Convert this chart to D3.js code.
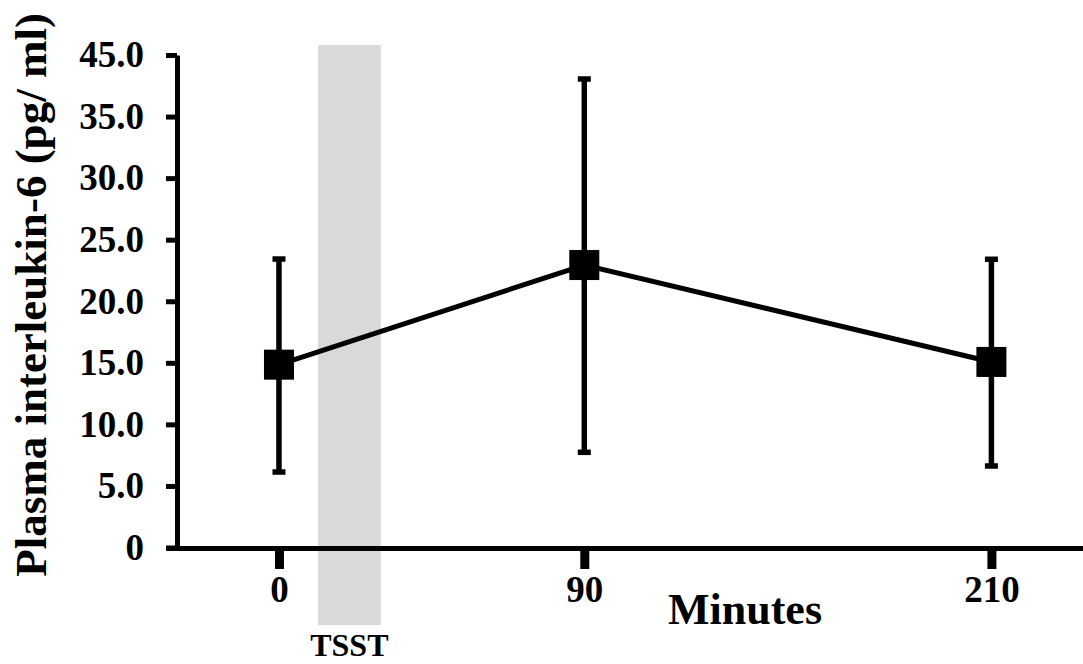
<!DOCTYPE html>
<html>
<head>
<meta charset="utf-8">
<script src="https://cdn.jsdelivr.net/npm/d3@7"></script>
<style>
  html, body { margin: 0; padding: 0; background: #fff; }
  svg text { font-family: "Liberation Serif", "Times New Roman", serif; font-weight: bold; fill: #000; }
</style>
</head>
<body>
<svg id="chart" width="1083" height="664"></svg>
<script>
// ---- data ----
const minutes = [0, 90, 210];
const means = [14.85, 22.94, 15.07];
const upper = [23.43, 38.05, 23.41];
const lower = [6.13, 7.73, 6.62];
const yTickValues = [0, 5, 10, 15, 20, 25, 30, 35, 40];
const yTickLabels = ["0", "5.0", "10.0", "15.0", "20.0", "25.0", "30.0", "35.0", "45.0"];
const xTickValues = [0, 90, 210];
const tsstWindow = [11.5, 30];
const yTitle = "Plasma interleukin-6 (pg/ ml)";
const xTitle = "Minutes";
const bandLabel = "TSST";

// ---- scales ----
const svg = d3.select("#chart");
const x = d3.scaleLinear().domain([-33.3, 237]).range([166, 1083]);
const y = d3.scaleLinear().domain([0, 40]).range([547.5, 55]);

// TSST band
svg.append("rect")
  .attr("x", x(tsstWindow[0]))
  .attr("width", x(tsstWindow[1]) - x(tsstWindow[0]))
  .attr("y", 45)
  .attr("height", 625 - 45)
  .attr("fill", "#d9d9d9");

svg.append("text")
  .attr("x", x((tsstWindow[0] + tsstWindow[1]) / 2))
  .attr("y", 656)
  .attr("text-anchor", "middle")
  .style("font-size", "32px")
  .text(bandLabel);

// Y axis
const yAxis = d3.axisLeft(y)
  .tickValues(yTickValues)
  .tickFormat((d, i) => yTickLabels[i])
  .tickSize(11)
  .tickSizeOuter(0)
  .tickPadding(22);
const gy = svg.append("g").attr("transform", "translate(177,0)").call(yAxis);
gy.select(".domain").attr("stroke", "#000").attr("stroke-width", 5);
gy.selectAll(".tick line").attr("stroke", "#000").attr("stroke-width", 5);
gy.selectAll(".tick text").style("font-size", "37px").attr("font-family", null);

// X axis
const xAxis = d3.axisBottom(x)
  .tickValues(xTickValues)
  .tickFormat(d3.format("d"))
  .tickSize(21)
  .tickSizeOuter(0)
  .tickPadding(7);
const gx = svg.append("g").attr("transform", "translate(0,548)").call(xAxis);
gx.select(".domain").attr("stroke", "#000").attr("stroke-width", 5);
gx.selectAll(".tick line").attr("stroke", "#000").attr("stroke-width", 9);
gx.selectAll(".tick text").style("font-size", "37px").attr("font-family", null);

// Titles
svg.append("text")
  .attr("transform", "translate(46,295) rotate(-90)")
  .attr("text-anchor", "middle")
  .style("font-size", "45px")
  .text(yTitle);

svg.append("text")
  .attr("x", 745)
  .attr("y", 624)
  .attr("text-anchor", "middle")
  .style("font-size", "44px")
  .text(xTitle);

// Data
const data = minutes.map((m, i) => ({ m, mean: means[i], hi: upper[i], lo: lower[i] }));

// error bars
const eb = svg.append("g");
eb.selectAll("line.bar").data(data).join("line")
  .attr("class", "bar")
  .attr("x1", d => x(d.m)).attr("x2", d => x(d.m))
  .attr("y1", d => y(d.hi)).attr("y2", d => y(d.lo))
  .attr("stroke", "#000").attr("stroke-width", 5.5);
eb.selectAll("line.capTop").data(data).join("line")
  .attr("class", "capTop")
  .attr("x1", d => x(d.m) - 6.5).attr("x2", d => x(d.m) + 6.5)
  .attr("y1", d => y(d.hi)).attr("y2", d => y(d.hi))
  .attr("stroke", "#000").attr("stroke-width", 5.5);
eb.selectAll("line.capBot").data(data).join("line")
  .attr("class", "capBot")
  .attr("x1", d => x(d.m) - 6.5).attr("x2", d => x(d.m) + 6.5)
  .attr("y1", d => y(d.lo)).attr("y2", d => y(d.lo))
  .attr("stroke", "#000").attr("stroke-width", 5.5);

// line
svg.append("path")
  .datum(data)
  .attr("fill", "none")
  .attr("stroke", "#000")
  .attr("stroke-width", 5)
  .attr("d", d3.line().x(d => x(d.m)).y(d => y(d.mean)));

// markers
svg.selectAll("rect.marker").data(data).join("rect")
  .attr("class", "marker")
  .attr("x", d => x(d.m) - 15)
  .attr("y", d => y(d.mean) - 15)
  .attr("width", 30).attr("height", 30)
  .attr("fill", "#000");
</script>
</body>
</html>
